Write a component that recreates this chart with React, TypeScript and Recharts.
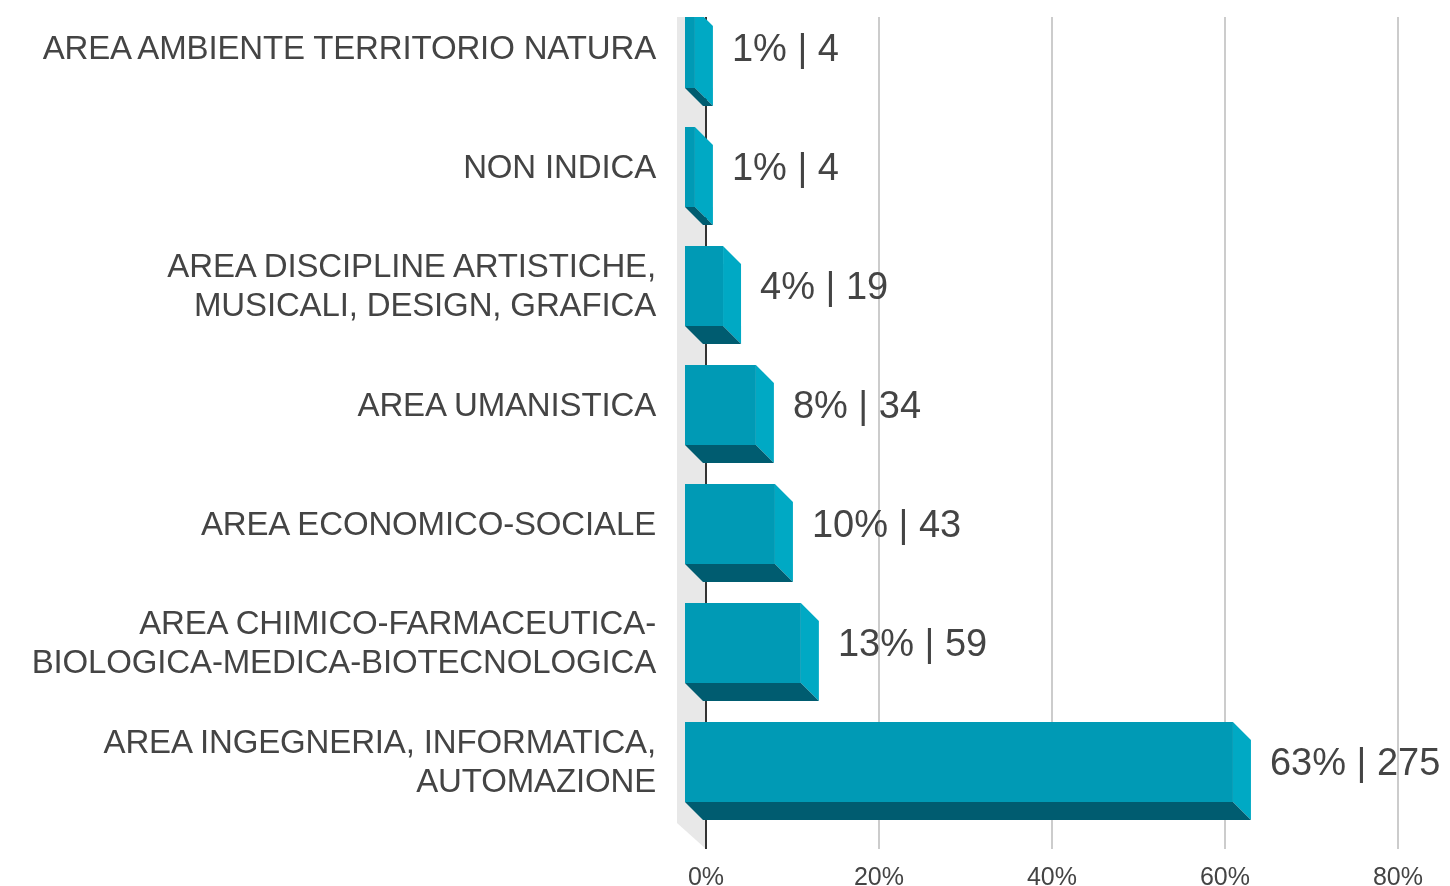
import { BarChart, Bar, XAxis, YAxis, CartesianGrid, LabelList, ReferenceLine } from "recharts";

const categories = [
  "AREA AMBIENTE TERRITORIO NATURA",
  "NON INDICA",
  "AREA DISCIPLINE ARTISTICHE,\nMUSICALI, DESIGN, GRAFICA",
  "AREA UMANISTICA",
  "AREA ECONOMICO-SOCIALE",
  "AREA CHIMICO-FARMACEUTICA-\nBIOLOGICA-MEDICA-BIOTECNOLOGICA",
  "AREA INGEGNERIA, INFORMATICA,\nAUTOMAZIONE",
];
const shares = [0.8, 0.8, 4.05, 7.85, 10.05, 13.05, 63];
const shareLabels = ["1%", "1%", "4%", "8%", "10%", "13%", "63%"];
const counts = [4, 4, 19, 34, 43, 59, 275];
const xTicks = [0, 20, 40, 60, 80];

const data = categories.map((name, i) => ({
  name,
  share: shares[i],
  label: `${shareLabels[i]} | ${counts[i]}`,
}));

const DEPTH = 18;
const FONT = '"Liberation Sans", Arial, sans-serif';

// fake 3D bar: x + width is the back edge, which sits on the axis value
function Bar3D({ x, y, width, height }: any) {
  const left = x - 21;
  const right = x + width;
  const frontRight = right - DEPTH;
  const bottom = y + height;
  const frontBottom = bottom - DEPTH;
  return (
    <g>
      <polygon
        points={`${frontRight},${y} ${right},${y + DEPTH} ${right},${bottom} ${frontRight},${frontBottom}`}
        fill="#00a9c4"
      />
      <polygon
        points={`${left},${frontBottom} ${frontRight},${frontBottom} ${right},${bottom} ${left + DEPTH},${bottom}`}
        fill="#005c70"
      />
      <rect x={left} y={y} width={frontRight - left} height={height - DEPTH} fill="#009ab5" />
    </g>
  );
}

// grey side wall left of the zero line
function Wall({ x1, y1, y2 }: any) {
  const left = x1 - 29;
  const top = Math.min(y1, y2);
  const bottom = Math.max(y1, y2);
  return <polygon points={`${left},${top} ${x1},${top} ${x1},${bottom} ${left},${bottom - 26}`} fill="#e8e8e8" />;
}

function CategoryTick({ x, y, payload }: any) {
  const lines = String(payload.value).split("\n");
  const top = y - 9 - ((lines.length - 1) * 39.5) / 2;
  return (
    <text textAnchor="end" fill="#444" fontFamily={FONT} fontSize={33} letterSpacing={-0.15}>
      {lines.map((line, i) => (
        <tspan key={i} x={x} y={top + i * 39.5} dy={11}>
          {line}
        </tspan>
      ))}
    </text>
  );
}

function ValueLabel({ x, y, width, value }: any) {
  return (
    <text x={x + width + 19} y={y + 40 + 13} fill="#444" fontFamily={FONT} fontSize={38}>
      {value}
    </text>
  );
}

export default function App() {
  return (
    <div
      style={{
        position: "absolute",
        left: 0,
        top: 17,
        width: 1450,
        height: 869,
        overflow: "hidden",
        background: "#fff",
        filter: "blur(0.6px)",
      }}
    >
      <div style={{ marginTop: -30 }}>
        <BarChart
          width={1450}
          height={899}
          layout="vertical"
          data={data}
          margin={{ top: 10, right: 52, left: 0, bottom: 0 }}
        >
          <CartesianGrid horizontal={false} vertical stroke="#cccccc" strokeWidth={2} />
          <ReferenceLine x={0} stroke="none" shape={<Wall />} zIndex={-1} />
          <XAxis
            type="number"
            domain={[0, 80]}
            ticks={xTicks}
            tickFormatter={(v) => `${v}%`}
            axisLine={false}
            tickLine={false}
            height={37}
            tickMargin={12}
            tick={{ fontSize: 25, fill: "#444", fontFamily: FONT }}
          />
          <YAxis
            type="category"
            dataKey="name"
            width={706}
            padding={{ top: 0, bottom: 19 }}
            interval={0}
            tickLine={false}
            tickMargin={44}
            axisLine={{ stroke: "#333", strokeWidth: 2 }}
            tick={<CategoryTick />}
            zIndex={0}
          />
          <Bar dataKey="share" barSize={98} shape={<Bar3D />} isAnimationActive={false} zIndex={400}>
            <LabelList dataKey="label" content={<ValueLabel />} />
          </Bar>
        </BarChart>
      </div>
    </div>
  );
}
